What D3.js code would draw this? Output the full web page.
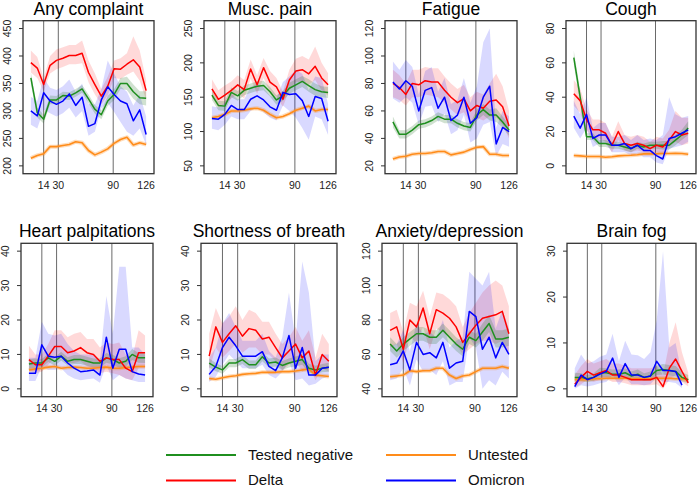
<!DOCTYPE html>
<html>
<head>
    <title>Symptoms by group</title>
    <style>
        body { margin: 0; padding: 0; background: #fff; }
        svg { display: block; font-family: "Liberation Sans", Arial, sans-serif; }
    </style>
</head>
<body>
<div id="chart"></div>
<script src="https://d3js.org/d3.v7.min.js"></script>
<script>
// days since infection, one point per week
var days = [0, 7, 14, 21, 28, 35, 42, 49, 56, 63, 70, 77, 84, 91, 98, 105, 112, 119, 126];
var refDays = [14, 30, 90];
var xTickDays = [14, 30, 90, 126];

var titles = ["Any complaint", "Musc. pain", "Fatigue", "Cough",
              "Heart palpitations", "Shortness of breath", "Anxiety/depression", "Brain fog"];

var yTicks = [
    [200, 250, 300, 350, 400, 450],
    [50, 100, 150, 200, 250],
    [20, 40, 60, 80, 100, 120],
    [0, 20, 40, 60, 80],
    [0, 10, 20, 30, 40],
    [0, 10, 20, 30, 40],
    [40, 60, 80, 100, 120],
    [0, 10, 20, 30]
];

// Tested negative
var negative = [
    [360,297,285,320,320,328,327,333,340,322,303,293,318,330,350,350,335,324,323],
    [153,138,137,157,152,160,163,166,167,158,146,152,163,168,173,167,161,158,157],
    [52,43,43,46,50,51,53,56,54,54,51,49,48,57,61,57,57,52,46],
    [63,40,17,17,13,13,12,12,11,10,12,11,12,12,12,12,15,18,22],
    [7.2,7.5,7.5,9,8,9.5,8,8.5,8.5,8,7.5,7.5,9,8.5,7.5,8,10,9,9],
    [7.5,6.3,5.5,7.5,7.5,8.5,7,7,9.3,7.5,7.8,6.8,7.5,8,8.5,6,5.5,6,6.3],
    [66,62,66,69,72,72,70,70,74,70,66,63,70,68,73,78,69,69,70],
    [2.5,2.5,2.2,2.5,3.5,3.5,3.2,3.2,3.5,2.8,3.2,2.5,2.8,4,4.2,4,3.8,2.5,2]
];
var negativeLo = [
    [350,288,277,312,313,321,320,326,333,314,295,285,309,320,340,338,322,312,310],
    [146,131,130,150,145,153,156,159,160,151,139,145,155,160,165,158,152,150,149],
    [48,40,40,43,47,48,50,53,51,51,48,46,45,53,57,53,52,48,42],
    [59,36,15,15,11,11,10,10,9,8,10,9,10,10,9.5,9.5,12,15,18],
    [5.8,6.2,6.3,7.8,6.8,8.2,6.8,7.2,7.2,6.7,6.2,6.2,7.6,7.1,6.1,6.5,8.4,7.6,7.5],
    [6.2,5.1,4.4,6.3,6.3,7.2,5.8,5.8,8,6.2,6.5,5.5,6.2,6.6,7,4.7,4.3,4.8,5],
    [62,58,62,65,68,68,66,66,70,66,62,59,66,64,68,73,64,64,65],
    [1.6,1.7,1.5,1.7,2.5,2.6,2.3,2.3,2.6,1.9,2.3,1.7,1.9,3,3.1,2.9,2.7,1.6,1.2]
];
var negativeHi = [
    [370,306,293,328,327,335,334,340,347,330,311,301,327,340,360,362,348,336,336],
    [160,145,144,164,159,167,170,173,174,165,153,159,171,176,181,176,170,166,165],
    [56,46,46,49,53,54,56,59,57,57,54,52,51,61,65,61,62,56,50],
    [67,44,19,19,15,15,14,14,13,12,14,13,14,14,14.5,14.5,18,21,26],
    [8.6,8.8,8.7,10.2,9.2,10.8,9.2,9.8,9.8,9.3,8.8,8.8,10.4,9.9,8.9,9.5,11.6,10.4,10.5],
    [8.8,7.5,6.6,8.7,8.7,9.8,8.2,8.2,10.6,8.8,9.1,8.1,8.8,9.4,10,7.3,6.7,7.2,7.6],
    [70,66,70,73,76,76,74,74,78,74,70,67,74,72,78,83,74,74,75],
    [3.5,3.4,3,3.4,4.6,4.5,4.2,4.2,4.5,3.8,4.2,3.4,3.8,5.1,5.4,5.2,5,3.6,3]
];

// Delta
var delta = [
    [388,378,348,383,392,396,401,401,405,370,348,327,345,377,376,385,393,380,337],
    [162,147,153,160,168,161,191,168,193,172,165,147,175,188,190,184,195,178,168],
    [80,77,72,80,79,82,81,81,75,70,66,69,60,64,62,67,68,63,49],
    [42,38,27,21,21,19,12,20,13,12,13,12,10,12,11,15,20,18,19],
    [8.5,7,7,9.5,12.3,12.3,10.5,11,12,10.5,10,8,9,8.5,8.5,6,5,10.5,10.5],
    [9.5,18,13.5,16,18.3,15.3,17.5,17,14.5,15,12,9,11,13,9,11,4,10,8],
    [74,76,63,80,76,87,72,86,84,81,76,67,72,77,81,82,83,85,72],
    [1,2.5,3.8,3,3.5,4,3,3,2.5,2,2,2,2,2.5,0.5,4.5,6.5,3.8,1.3]
];
var deltaLo = [
    [370,360,336,368,376,380,385,385,387,352,330,312,328,360,358,366,372,355,320],
    [150,135,140,148,155,148,177,155,178,158,150,136,160,172,173,168,175,160,152],
    [70,68,64,70,70,72,71,70,66,61,57,59,51,55,53,56,55,50,40],
    [35,31,21,16,16,14,8,15,9,8,9,8,7,8,7,11,14,12,13],
    [5.5,4.5,5,7,9,9,7.5,7.5,8,6.5,6,4.5,5,4.5,4,3,2.5,6,6],
    [5.5,12,9,11,13,10.5,12,12,10,10,8,5.5,7,8,5,6.5,2.5,6,5],
    [64,66,55,70,67,76,63,75,73,70,66,60,63,66,68,68,66,68,60],
    [0.3,1,2,1.5,2,2.2,1.5,1.5,1.2,0.8,0.8,0.8,0.8,1,0,2,3,1.5,0.5]
];
var deltaHi = [
    [410,398,360,400,412,416,420,420,428,392,368,340,362,392,396,405,436,410,356],
    [176,160,167,173,182,175,205,182,207,188,178,158,190,206,210,205,224,200,185],
    [90,86,80,90,90,92,91,91,85,80,76,79,70,74,72,80,87,78,60],
    [50,45,33,27,27,25,17,26,18,17,18,17,14,17,16,21,32,28,28],
    [12.5,10,10,13,17,17,15,16,16.5,14.5,14.5,12,13.5,13,13.5,10,9,17,15.5],
    [16,23.5,19,21,24,20,23,22,19.5,19.5,16,13,15,18,14,17,9,16,13],
    [84,86,73,90,88,97,82,96,95,92,88,76,84,90,96,100,103,100,88],
    [3,5,6.5,5.5,6,6.5,5.5,5.5,5,4.5,4.5,4.5,4.5,5,3,10,14.5,8,3.5]
];

// Omicron
var omicron = [
    [300,291,333,318,312,318,331,310,325,272,277,320,344,330,318,313,282,302,257],
    [119,118,125,138,132,132,147,152,146,136,131,157,154,155,145,122,151,148,115],
    [81,76,82,78,60,75,77,62,70,53,57,70,51,55,70,78,36,48,45],
    [29,22,30,16,18,18,12,12,13,10,12,9,9,6,4,16,17,19,21],
    [4.5,4.5,12.8,9.5,9.2,9.5,7.5,6,5,5.2,5.5,4,15,6,11.5,11.5,5,4.3,4],
    [4.2,6.5,12,15,12.5,9.5,9.5,9.5,10.8,6.5,5.3,9,15.5,6,12,4,4,6,6.3],
    [54,55,62,51,67,60,61,58,67,52,55,56,85,82,63,70,58,67,60],
    [0.5,3,2,2.5,3.2,3.8,6.7,2.5,5.5,3,3,2.5,2.8,6,4,4,3.8,0.8,null]
];
var omicronLo = [
    [275,268,302,296,290,296,306,288,300,255,262,305,315,298,280,262,255,268,238],
    [104,102,110,122,118,118,130,136,128,120,116,138,130,120,105,88,122,118,95],
    [69,66,70,66,50,63,64,52,58,43,46,57,37,40,50,52,27,36,34],
    [22,16,22,11,13,13,8,8,8,6,7,5,5,2,1,10,11,12,14],
    [2.3,2.3,6.5,5.5,5.5,6,4,3,2.5,2.8,3,1.8,7,2.5,4,3,2.5,2,2],
    [2,3.5,7,10,8,6,6,6,7,4,3,5,8,2.5,3,1,1.5,3,3.5],
    [45,46,52,42,57,50,51,48,56,42,44,44,70,64,40,45,42,50,46],
    [0,0.8,0.5,0.8,1.2,1.5,3,0.8,2.5,1,1,0.8,1,2.5,1.5,1.5,1.3,0.2,null]
];
var omicronHi = [
    [326,318,360,342,338,345,357,335,350,312,312,340,392,368,345,335,310,330,290],
    [137,135,142,155,147,147,165,170,164,152,148,172,180,190,184,160,180,178,140],
    [96,90,97,92,72,89,92,74,84,65,68,84,66,78,110,120,48,60,56],
    [38,30,40,22,25,25,17,17,18,15,18,15,16,15,18,40,30,28,29],
    [9,9,19.5,16,15.5,16,13,11,10,10,10,8,27,16,35.5,35.5,12,12,10],
    [9,12,19,22,18,14,14,14,16,11,9,15,28,14,37,28,8,10,10],
    [65,66,74,62,78,72,73,70,80,64,68,70,108,104,100,108,75,86,75],
    [4.5,7.5,5.5,6,7,7.5,12,6,10.5,7.5,7.3,6.5,8,15,30,9,10,3,null]
];

// Untested
var untested = [
    [214,219,222,235,235,237,239,244,242,228,220,225,231,241,248,252,238,242,239],
    [120,122,125,130,130,131,133,134,131,125,120,122,126,131,134,137,130,132,132],
    [25,26.5,27,28.5,29,29,29.5,30.5,30.5,28,29,30,32,33.5,34,28.5,28.5,27.5,27.5],
    [6,5.8,5.5,5.5,5.5,5,5.3,5.8,6,6.2,6.5,7,7,7,7.2,7.2,7.3,7.2,6.8],
    [5.5,5.8,6,6.3,6.5,6,6.2,6.3,6.2,6,6,6.2,6.3,6,6,6.2,6.3,6.5,6.5],
    [3,2.8,3.2,3.6,3.8,4.2,4.4,4.5,4.8,4.8,4.8,5,5,5.2,5.5,5.7,4,3.8,3.6],
    [47,47.5,48,50.5,50,50.5,50.5,52,52,48,46,47.5,48,50,52,52,52,53,52],
    [2,2,2,2.2,2.2,2.3,2.3,2.3,2.3,2.2,2.2,2.2,2.2,2.3,2.3,2.3,2.2,2.2,2]
];

var groups = ["Tested negative", "Untested", "Delta", "Omicron"];

var colors = {
    negative: "#1f8f1f",
    delta: "#ff0000",
    omicron: "#0000ff",
    untested: "#ff8c1a"
};
var bandFill = {
    negative: "rgba(40,120,40,0.22)",
    delta: "rgba(255,0,0,0.15)",
    omicron: "rgba(0,0,255,0.15)"
};

var width = 698, height = 488;

// panel boxes (left, right) per panel, and top/bottom per row
var boxX = [[23, 154], [204, 336], [385, 517], [566, 696],
            [21, 153], [201, 337], [382, 517], [567, 696]];
var rowY = [[20.7, 173.7], [243.3, 396.7]];

var svg = d3.select("#chart").append("svg")
    .attr("width", width)
    .attr("height", height);

titles.forEach(function (title, i) {
    var row = Math.floor(i / 4);
    var left = boxX[i][0], right = boxX[i][1];
    var top = rowY[row][0], bottom = rowY[row][1];

    var tk = yTicks[i];
    var lo = tk[0], hi = tk[tk.length - 1];
    var pad = (hi - lo) * 0.057;

    var x = d3.scaleLinear().domain([-8.6, 134.6]).range([left, right]);
    var y = d3.scaleLinear().domain([lo - pad, hi + pad]).range([bottom, top]);

    var g = svg.append("g");

    // clip so bands stay in the box
    var clipId = "clip" + i;
    g.append("clipPath").attr("id", clipId)
        .append("rect")
        .attr("x", left).attr("y", top)
        .attr("width", right - left).attr("height", bottom - top);

    var plot = g.append("g").attr("clip-path", "url(#" + clipId + ")");

    // reference lines
    plot.selectAll(".ref").data(refDays).enter().append("line")
        .attr("x1", function (d) { return x(d); })
        .attr("x2", function (d) { return x(d); })
        .attr("y1", top).attr("y2", bottom)
        .attr("stroke", "#6a6a6a")
        .attr("stroke-width", 1);

    function band(loArr, hiArr, fill) {
        var area = d3.area()
            .defined(function (d, j) { return loArr[j] != null && hiArr[j] != null; })
            .x(function (d) { return x(d); })
            .y0(function (d, j) { return y(loArr[j]); })
            .y1(function (d, j) { return y(hiArr[j]); });
        plot.append("path").datum(days)
            .attr("d", area)
            .attr("fill", fill);
    }

    function line(vals, color, w, op) {
        var ln = d3.line()
            .defined(function (d, j) { return vals[j] != null; })
            .x(function (d) { return x(d); })
            .y(function (d, j) { return y(vals[j]); });
        plot.append("path").datum(days)
            .attr("d", ln)
            .attr("fill", "none")
            .attr("stroke", color)
            .attr("stroke-width", w)
            .attr("stroke-opacity", op)
            .attr("stroke-linejoin", "round");
    }

    band(deltaLo[i], deltaHi[i], bandFill.delta);
    band(omicronLo[i], omicronHi[i], bandFill.omicron);
    band(negativeLo[i], negativeHi[i], bandFill.negative);

    line(untested[i], colors.untested, 4, 0.3);
    line(untested[i], colors.untested, 1.6, 1);
    line(negative[i], colors.negative, 1.5, 1);
    line(delta[i], colors.delta, 1.5, 1);
    line(omicron[i], colors.omicron, 1.5, 1);

    // box
    g.append("rect")
        .attr("x", left).attr("y", top)
        .attr("width", right - left).attr("height", bottom - top)
        .attr("fill", "none")
        .attr("stroke", "#333")
        .attr("stroke-width", 1.3);

    // y axis ticks + rotated labels
    g.selectAll(".yt").data(tk).enter().append("line")
        .attr("x1", left - 4).attr("x2", left)
        .attr("y1", function (d) { return y(d); })
        .attr("y2", function (d) { return y(d); })
        .attr("stroke", "#333");

    g.selectAll(".yl").data(tk).enter().append("text")
        .attr("transform", function (d) {
            return "translate(" + (left - 12) + "," + y(d) + ") rotate(-90)";
        })
        .attr("text-anchor", "middle")
        .attr("font-size", "10.5px")
        .attr("fill", "#222")
        .text(function (d) { return d; });

    // x labels (no ticks)
    g.selectAll(".xl").data(xTickDays).enter().append("text")
        .attr("x", function (d) { return x(d); })
        .attr("y", bottom + 15)
        .attr("text-anchor", "middle")
        .attr("font-size", "10.5px")
        .attr("fill", "#222")
        .text(function (d) { return d; });

    // title
    g.append("text")
        .attr("x", (left + right) / 2)
        .attr("y", top - 6)
        .attr("text-anchor", "middle")
        .attr("font-size", "17.5px")
        .attr("fill", "#000")
        .text(title);
});

// legend
var legendItems = [
    { label: groups[0], color: colors.negative, lx: 166, ly: 455 },
    { label: groups[1], color: colors.untested, lx: 386, ly: 455 },
    { label: groups[2], color: colors.delta, lx: 166, ly: 480.5 },
    { label: groups[3], color: colors.omicron, lx: 386, ly: 480.5 }
];

var leg = svg.append("g");
leg.selectAll("line").data(legendItems).enter().append("line")
    .attr("x1", function (d) { return d.lx; })
    .attr("x2", function (d) { return d.lx + 70; })
    .attr("y1", function (d) { return d.ly; })
    .attr("y2", function (d) { return d.ly; })
    .attr("stroke", function (d) { return d.color; })
    .attr("stroke-width", 2);

leg.selectAll("text").data(legendItems).enter().append("text")
    .attr("x", function (d) { return d.lx + 82; })
    .attr("y", function (d) { return d.ly; })
    .attr("dy", "0.33em")
    .attr("font-size", "15px")
    .attr("fill", "#111")
    .text(function (d) { return d.label; });
</script>
</body>
</html>
